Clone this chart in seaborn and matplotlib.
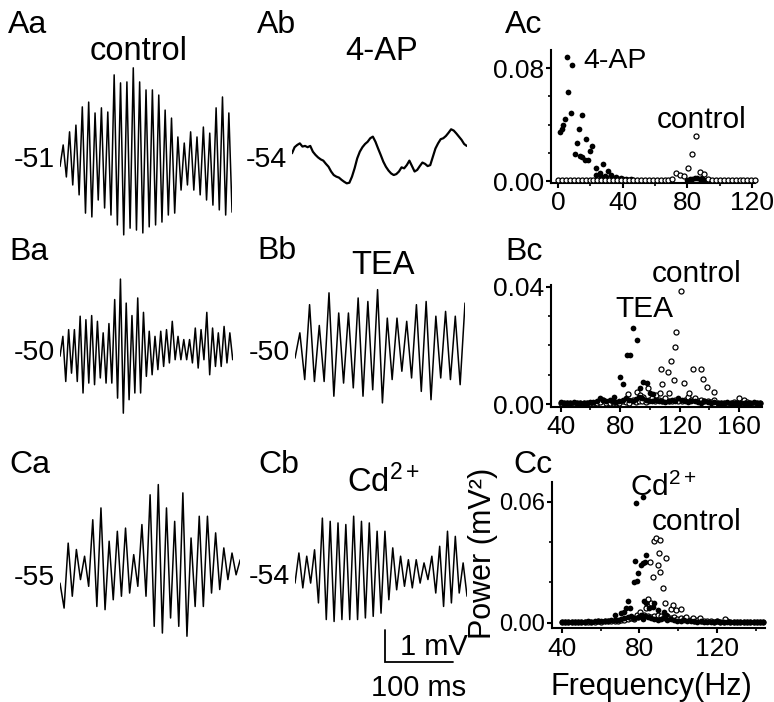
import numpy as np
import matplotlib
matplotlib.use("Agg")
import matplotlib.pyplot as plt
import seaborn as sns

W, H = 774, 702

# ---------------- voltage traces (mV, successive turning points) ----------------
aa_mv = [-0.2, 0.47, -0.53, 0.88, -0.78, 1.09, -1.09, 1.66, -1.66, 1.81, -1.78, 1.47, -1.25,
         1.63, -1.5, 1.5, -1.72, 2.66, -2.03, 2.41, -2.34, 2.44, -2.13, 2.88, -2.19, 2.44,
         -2.28, 2.19, -2.09, 2.19, -2.03, 2.03, -1.94, 1.56, -1.72, 1.31, -1.66, 0.72, -0.94,
         0.53, -0.78, 0.88, -0.94, 0.72, -1.09, 1.03, -1.25, 0.84, -1.41, 1.63, -1.56, 1.97,
         -1.72, 1.47, -1.63]
ab_mv = [0.21, 0.40, 0.47, 0.52, 0.42, 0.44, 0.40, 0.44, 0.26, 0.16, 0.08, 0.02, -0.02, -0.12,
         -0.21, -0.36, -0.47, -0.52, -0.55, -0.62, -0.68, -0.73, -0.71, -0.52, -0.26, 0.05,
         0.26, 0.40, 0.50, 0.57, 0.68, 0.73, 0.57, 0.36, 0.16, -0.05, -0.21, -0.33, -0.42,
         -0.47, -0.44, -0.36, -0.23, -0.26, -0.16, -0.02, -0.19, -0.36, -0.31, -0.19, -0.08,
         -0.12, -0.19, -0.16, 0.10, 0.36, 0.52, 0.65, 0.68, 0.75, 0.85, 0.96, 0.92, 0.83,
         0.73, 0.63, 0.50, 0.44]
ba_mv = [-0.1, 0.52, -0.89, 0.73, -0.63, 0.73, -0.89, 1.15, -1.25, 1.04, -0.94, 1.17, -0.99,
         0.99, -0.78, 0.63, -0.94, 0.92, -0.94, 1.67, -1.41, 2.31, -1.88, 1.56, -1.46, 1.17,
         -1.25, 1.72, -1.25, 1.27, -0.73, 0.68, -0.68, 0.52, -0.52, 0.68, -0.42, 0.73, -0.31,
         0.99, -0.21, 0.52, -0.21, 0.42, -0.21, 0.42, -0.31, 0.78, -0.47, 0.73, -0.21, 1.27,
         -0.68, 0.78, -0.42, 0.63, -0.42, 0.83, -0.31, 0.63, -0.21]
bb_mv = [-0.16, 0.63, -0.83, 1.51, -0.89, 0.86, -0.89, 1.88, -1.35, 1.25, -0.94, 1.25, -1.09,
         1.72, -1.35, 1.61, -1.15, 1.98, -1.56, 1.09, -0.83, 1.09, -0.57, 0.99, -0.78, 1.51,
         -1.20, 1.61, -1.46, 1.15, -0.78, 1.30, -0.83, 1.15, -0.99, 1.56]
ca_mv = [-0.16, -0.94, 1.09, -0.57, 0.89, -0.05, 0.68, -0.26, 1.82, -0.89, 2.19, -0.99, 1.15,
         -0.68, 1.46, -0.57, 1.56, -0.47, 0.73, -0.26, 1.67, -0.57, 2.60, -1.51, 2.92, -1.72,
         2.19, -1.25, 1.77, -1.51, 2.66, -1.82, 1.25, -0.89, 1.93, -0.89, 1.93, -0.47, 1.41,
         -0.36, 0.94, -0.05, 0.78, 0.10, 0.57]
cb_mv = [-0.19, 0.75, -0.34, 0.65, -0.19, 0.85, -0.81, 1.84, -1.33, 1.74, -1.39, 1.69, -1.33,
         1.64, -1.33, 1.90, -1.33, 1.74, -1.28, 1.69, -1.23, 1.43, -1.13, 1.43, -0.71, 0.91,
         -0.40, 0.65, -0.29, 0.54, -0.34, 0.54, -0.19, 0.44, -0.08, 0.65, -0.50, 0.96, -0.92,
         1.43, -0.81, 1.27, -0.50, 0.44, -0.60]
trace_ms = {"aa": 253, "ab": 257, "ba": 254, "bb": 250, "ca": 265, "cb": 253}
rest_labels = {"aa": "-51", "ab": "-54", "ba": "-50", "bb": "-50", "ca": "-55", "cb": "-54"}
scale_ms, scale_mv = 100, 1

# ---------------- power spectra (mV^2) ----------------
# Ac
ap_freq = [1.3, 2.3, 3.4, 4.4, 5.8, 6.4, 7.9, 8.7, 10.3, 11.7, 12.8, 13.8, 14.8, 15.0, 16.8,
           17.4, 18.3, 19.8, 21.3, 23.3, 23.7, 25.8, 26.8, 28.0, 28.9, 30.0, 31.0, 33.0, 34.5,
           36.0, 37.5, 39.0, 40.5, 42.0, 43.5, 45.0, 46.5, 80.0, 81.5, 83.0, 84.5, 86.0, 87.5,
           89.0, 90.5, 92.0]
ap_power = [0.035, 0.037, 0.040, 0.044, 0.088, 0.063, 0.048, 0.082, 0.019, 0.027, 0.037, 0.018,
            0.017, 0.047, 0.015, 0.030, 0.015, 0.021, 0.025, 0.0095, 0.004, 0.0055, 0.003, 0.012,
            0.0035, 0.003, 0.007, 0.004, 0.002, 0.0025, 0.0015, 0.002, 0.0012, 0.0015, 0.001,
            0.0012, 0.0008, 0.001, 0.0015, 0.0012, 0.002, 0.0018, 0.0015, 0.002, 0.001, 0.0008]
ac_ctrl_freq = np.arange(51) * 2.44
ac_ctrl_power = [0.0006, 0.0006, 0.0005, 0.0006, 0.0006, 0.0005, 0.0006, 0.0006, 0.0005, 0.0006,
                 0.0006, 0.0005, 0.0006, 0.0006, 0.0005, 0.0006, 0.0006, 0.0005, 0.0006, 0.0006,
                 0.0005, 0.0006, 0.0006, 0.0005, 0.0006, 0.0007, 0.0006, 0.0008, 0.0009,
                 0.0012, 0.006, 0.004, 0.0035, 0.009, 0.019, 0.032, 0.0066, 0.0047, 0.0015,
                 0.0008, 0.0007, 0.0006, 0.0006, 0.0005, 0.0006, 0.0006, 0.0005, 0.0006, 0.0007,
                 0.0006, 0.0008]
# Bc
bc_grid = 40 + np.arange(62) * 2.2
tea_freq = [75.6, 80.0, 82.2, 84.4, 86.7, 88.9, 91.1, 93.3, 95.6, 97.8, 100.0, 102.2]
tea_power = [0.0026, 0.0092, 0.0068, 0.0168, 0.0168, 0.026, 0.022, 0.0054, 0.0077, 0.0074,
             0.004, 0.0035]
tea_floor = [0.0008, 0.0004, 0.0006, 0.0004, 0.0007, 0.0005, 0.0004, 0.0006, 0.0005, 0.0007,
             0.0008, 0.0012, 0.002, 0.0015, 0.0012, 0.0015, 0.001, 0.0008, 0.0012, 0.0015,
             0.002, 0.0015, 0.001, 0.0018, 0.0025, 0.002, 0.0015, 0.0012, 0.001, 0.0015,
             0.0012, 0.001, 0.0008, 0.0012, 0.0015, 0.001, 0.0022, 0.0015, 0.001, 0.0008,
             0.0012, 0.001, 0.0008, 0.0006, 0.001, 0.0008, 0.0006, 0.0008, 0.0005, 0.0006,
             0.0005, 0.0007, 0.0004, 0.0006, 0.0005, 0.0004, 0.0006, 0.0005, 0.0006, 0.0008,
             0.0005, 0.0004]
bc_ctrl_freq = [85.6, 91.1, 93.3, 95.6, 98.9, 104.4, 106.6, 107.8, 108.4, 112.2, 113.0, 114.4,
                116.2, 117.1, 117.8, 120.7, 123.3, 126.7, 128.9, 134.4, 135.6, 138.4, 142.9, 160.0]
bc_ctrl_power = [0.0035, 0.0043, 0.0032, 0.0026, 0.0054, 0.003, 0.004, 0.012, 0.0068, 0.0111,
                 0.0037, 0.0148, 0.0083, 0.0194, 0.0245, 0.0385, 0.0071, 0.004, 0.012, 0.012,
                 0.0085, 0.006, 0.0041, 0.0023]
bc_ctrl_floor = [0.0003, 0.0005, 0.0004, 0.0005, 0.0003, 0.0005, 0.0004, 0.0005, 0.0006, 0.0005,
                 0.0006, 0.0005, 0.0008, 0.0015, 0.0006, 0.0005, 0.0008, 0.0006, 0.0005, 0.0012,
                 0.0008, 0.0006, 0.0015, 0.0008, 0.001, 0.0012, 0.0008, 0.0015, 0.002, 0.0012,
                 0.0015, 0.001, 0.002, 0.0012, 0.001, 0.0015, 0.0012, 0.001, 0.0015, 0.0025,
                 0.0015, 0.002, 0.001, 0.0015, 0.0012, 0.001, 0.0008, 0.0015, 0.0006, 0.0005,
                 0.0006, 0.0005, 0.0004, 0.0008, 0.0006, 0.0005, 0.0015, 0.0008, 0.0005, 0.0004,
                 0.0006, 0.0005]
# Cc
cc_grid = 40 + np.arange(62) * 1.7
cd_freq = [67.2, 70.6, 72.3, 73.3, 74.2, 75.0, 77.2, 77.9, 78.2, 78.6, 79.4, 80.8, 81.6, 81.7,
           81.7, 82.1, 82.6, 83.4, 83.4, 85.1, 86.8, 87.7, 89.4, 92.5, 93.7]
cd_power = [0.0038, 0.0046, 0.0055, 0.0071, 0.0109, 0.0071, 0.0203, 0.0306, 0.0592, 0.0208,
            0.0248, 0.0286, 0.0621, 0.0294, 0.0017, 0.0107, 0.0302, 0.0335, 0.0096, 0.0071,
            0.0079, 0.0096, 0.0063, 0.0055, 0.0038]
cd_floor = [0.0004, 0.0003, 0.0005, 0.0004, 0.0003, 0.0005, 0.0004, 0.0005, 0.0006, 0.0005,
            0.0008, 0.0006, 0.0008, 0.001, 0.0009, 0.0012, 0.0015, 0.0012, 0.002, 0.0025,
            0.003, 0.0035, 0.0025, 0.003, 0.004, 0.0035, 0.003, 0.0025, 0.002, 0.0015,
            0.002, 0.0025, 0.0015, 0.0018, 0.0012, 0.001, 0.0008, 0.0012, 0.0006, 0.0008,
            0.0006, 0.0005, 0.0006, 0.0004, 0.0005, 0.0004, 0.0005, 0.0006, 0.0004, 0.0005,
            0.0004, 0.0005, 0.0004, 0.0003, 0.0005, 0.0004, 0.0005, 0.0004, 0.0003, 0.0005,
            0.0004, 0.0005]
cc_ctrl_freq = [76.9, 78.6, 80.3, 83.4, 84.2, 85.5, 86.0, 86.8, 87.7, 88.5, 89.4, 90.0, 90.8,
                90.8, 92.1, 93.1, 93.7, 96.3, 97.2, 98.9, 101.5, 104.1, 107.5, 110.9, 123.7]
cc_ctrl_power = [0.0021, 0.0038, 0.0055, 0.0071, 0.0116, 0.0302, 0.0096, 0.0225, 0.0405, 0.0418,
                 0.0286, 0.0347, 0.0410, 0.0253, 0.0174, 0.0096, 0.0322, 0.0066, 0.0088, 0.0063,
                 0.0066, 0.0026, 0.0021, 0.0021, 0.0018]
cc_ctrl_floor = [0.0004, 0.0005, 0.0003, 0.0004, 0.0005, 0.0004, 0.0003, 0.0005, 0.0004, 0.0005,
                 0.0004, 0.0006, 0.0005, 0.0006, 0.0008, 0.0006, 0.0008, 0.001, 0.0012, 0.0015,
                 0.0018, 0.0025, 0.002, 0.003, 0.0035, 0.004, 0.0035, 0.003, 0.0035, 0.004,
                 0.0035, 0.003, 0.0035, 0.0025, 0.003, 0.002, 0.0025, 0.0018, 0.0015, 0.0012,
                 0.001, 0.0012, 0.0008, 0.0006, 0.0008, 0.0006, 0.0005, 0.0006, 0.0004, 0.0005,
                 0.0006, 0.0004, 0.0005, 0.0004, 0.0005, 0.0003, 0.0004, 0.0005, 0.0004, 0.0003,
                 0.0004, 0.0005]

sns.set_style("ticks")
plt.rcParams['font.family'] = ['Liberation Sans', 'DejaVu Sans']
plt.rcParams['mathtext.fontset'] = 'custom'
plt.rcParams['mathtext.rm'] = 'Liberation Sans'
plt.rcParams['mathtext.it'] = 'Liberation Sans:italic'
for key in ['text.color', 'axes.labelcolor', 'xtick.color', 'ytick.color', 'axes.edgecolor']:
    plt.rcParams[key] = 'black'

fig = plt.figure(figsize=(W / 100, H / 100), dpi=100)

MS_PX = 0.68   # pixels per ms
MV_PX = 32.0   # pixels per mV


def px_axes(left, top, width, height):
    return fig.add_axes([left / W, 1 - (top + height) / H, width / W, height / H])


def fig_text(x, y, s, size, **kw):
    fig.text(x / W, 1 - y / H, s, fontsize=size, color='black', **kw)


def draw_trace(key, values, left, base_y, lw=1.1):
    dur = trace_ms[key]
    half = 3.6
    ax = px_axes(left, base_y - half * MV_PX, dur * MS_PX, 2 * half * MV_PX)
    t = np.linspace(0, dur, len(values))
    sns.lineplot(x=t, y=values, ax=ax, color='black', linewidth=lw, sort=False, errorbar=None)
    ax.set_xlim(0, dur)
    ax.set_ylim(-half, half)
    ax.axis('off')
    fig_text(left - 5, base_y, rest_labels[key], 20.5, ha='right', va='center')
    return ax


def draw_spectrum(rect, xlim, ylim, xmajor, xminor, ymajor, ylabels, yminor, series,
                  ysize=19):
    ax = px_axes(*rect)
    for freq, power, filled in series:
        if filled:
            sns.scatterplot(x=freq, y=power, ax=ax, s=17, color='black', edgecolor='black',
                            linewidth=0, clip_on=False, zorder=3)
        else:
            sns.scatterplot(x=freq, y=power, ax=ax, s=13, color='white', edgecolor='black',
                            linewidth=0.9, clip_on=False, zorder=3)
    ax.set_xlim(*xlim)
    ax.set_ylim(*ylim)
    ax.set_xticks(xmajor)
    ax.set_xticks(xminor, minor=True)
    ax.set_yticks(ymajor)
    ax.set_yticklabels(ylabels)
    ax.set_yticks(yminor, minor=True)
    sns.despine(ax=ax)
    for side in ['left', 'bottom']:
        ax.spines[side].set_linewidth(1.5)
        ax.spines[side].set_color('black')
    ax.tick_params(which='major', direction='out', length=3.5, width=1.5, labelsize=19, pad=2.5,
                   colors='black')
    ax.tick_params(axis='y', which='major', labelsize=ysize, pad=1.5)
    ax.tick_params(which='minor', direction='out', length=2.5, width=1.2, colors='black')
    ax.set_facecolor('none')
    return ax


# traces
draw_trace("aa", aa_mv, 60, 160)
draw_trace("ab", ab_mv, 292, 160, lw=1.6)
draw_trace("ba", ba_mv, 60, 353)
draw_trace("bb", bb_mv, 295, 353)
draw_trace("ca", ca_mv, 60, 578)
ax_cb = draw_trace("cb", cb_mv, 295, 577)

# scale bar (in Cb data units)
x0 = (385 - 295) / MS_PX
y0 = (577 - 662) / MV_PX
ax_cb.plot([x0, x0, x0 + scale_ms], [y0 + scale_mv, y0, y0], color='black', lw=1.3,
           clip_on=False, solid_joinstyle='miter')
fig_text(400, 655, f"{scale_mv} mV", 21, ha='left', va='baseline')
fig_text(419, 696, f"{scale_ms} ms", 21, ha='center', va='baseline')

# spectra
draw_spectrum((551, 50, 204, 132.7), (-4.3, 121.8), (-0.0012, 0.093),
              [0, 40, 80, 120], [20, 60, 100], [0.0, 0.08], ['0.00', '0.08'],
              [0.02, 0.04, 0.06],
              [(ap_freq, ap_power, True), (ac_ctrl_freq, ac_ctrl_power, False)])
draw_spectrum((550.7, 285, 211, 121.7), (33.3, 175.3), (-0.00082, 0.04055),
              [40, 80, 120, 160], [60, 100, 140], [0.0, 0.04], ['0.00', '0.04'],
              [0.01, 0.02, 0.03],
              [(bc_grid, bc_ctrl_floor, False), (bc_ctrl_freq, bc_ctrl_power, False),
               (bc_grid, tea_floor, True), (tea_freq, tea_power, True)])
draw_spectrum((551.7, 481.7, 213.3, 146.6), (34.9, 144.5), (-0.0028, 0.0699),
              [40, 80, 120], [60, 100, 140], [0.0, 0.06], ['0.00', '0.06'],
              [0.02, 0.04],
              [(cc_grid, cc_ctrl_floor, False), (cc_ctrl_freq, cc_ctrl_power, False),
               (cc_grid, cd_floor, True), (cd_freq, cd_power, True)], ysize=17)

# panel letters
for s, x, y in [("Aa", 8, 33), ("Ab", 257, 33), ("Ac", 505, 33),
                ("Ba", 9, 260), ("Bb", 257, 259), ("Bc", 505, 260),
                ("Ca", 9, 473), ("Cb", 258, 473), ("Cc", 513, 473)]:
    fig_text(x, y, s, 23, ha='left', va='baseline')

# condition labels
fig_text(139, 60, "control", 23.5, ha='center', va='baseline')
fig_text(382, 60, "4-AP", 23.5, ha='center', va='baseline')
fig_text(383, 274, "TEA", 23.5, ha='center', va='baseline')
fig_text(347, 492, "Cd$^{2+}$", 23.5, ha='left', va='baseline')
fig_text(583, 68, "4-AP", 20.5, ha='left', va='baseline')
fig_text(657, 128, "control", 21.5, ha='left', va='baseline')
fig_text(652, 282, "control", 21.5, ha='left', va='baseline')
fig_text(615, 317, "TEA", 21.5, ha='left', va='baseline')
fig_text(630, 496, "Cd$^{2+}$", 21.5, ha='left', va='baseline')
fig_text(652, 530, "control", 21.5, ha='left', va='baseline')

# axis titles of Cc
fig_text(483, 553, "Power (mV²)", 22, ha='center', va='center', rotation=90)
fig_text(651, 695, "Frequency(Hz)", 22, ha='center', va='baseline')

fig.savefig("out.png", dpi=100)
